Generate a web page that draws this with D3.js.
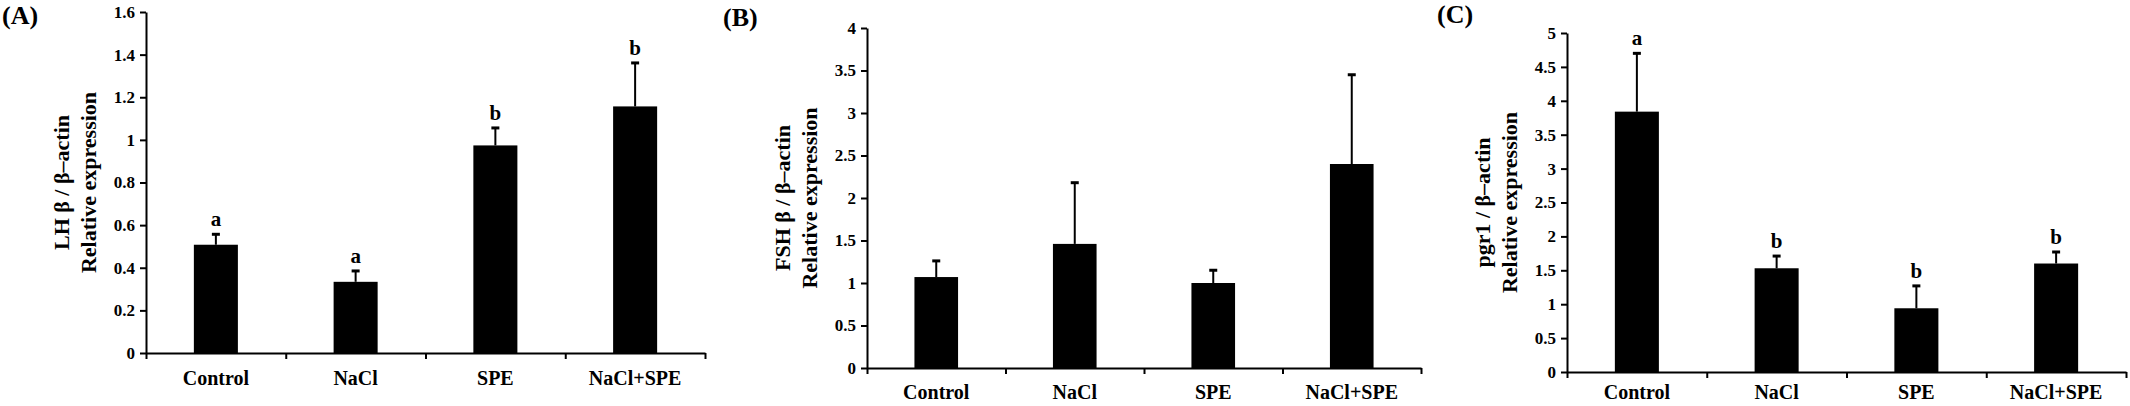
<!DOCTYPE html>
<html>
<head>
<meta charset="utf-8">
<script src="https://d3js.org/d3.v7.min.js"></script>
<style>
  body { margin: 0; padding: 0; background: #fff; }
  svg { display: block; }
  text { font-family: "Liberation Serif", "Times New Roman", serif; font-weight: bold; fill: #000; }
  .axis path, .axis line { stroke: #000; stroke-width: 2; }
  .axis text { font-size: 17px; }
</style>
</head>
<body>
<div id="chart"></div>
<script>
  // groups on the x axis (same for the three panels)
  var categories = ["Control", "NaCl", "SPE", "NaCl+SPE"];

  // (A) LH beta
  var lhMean = [0.508, 0.334, 0.974, 1.157];
  var lhErr = [0.049, 0.051, 0.082, 0.204];
  var lhLetters = ["a", "a", "b", "b"];
  var lhTicks = [0, 0.2, 0.4, 0.6, 0.8, 1, 1.2, 1.4, 1.6];

  // (B) FSH beta
  var fshMean = [1.07, 1.46, 1.0, 2.4];
  var fshErr = [0.19, 0.72, 0.15, 1.05];
  var fshLetters = ["", "", "", ""];
  var fshTicks = [0, 0.5, 1, 1.5, 2, 2.5, 3, 3.5, 4];

  // (C) pgr1
  var pgrMean = [3.84, 1.53, 0.94, 1.6];
  var pgrErr = [0.86, 0.18, 0.33, 0.17];
  var pgrLetters = ["a", "b", "b", "b"];
  var pgrTicks = [0, 0.5, 1, 1.5, 2, 2.5, 3, 3.5, 4, 4.5, 5];

  var W = 2130, H = 406;

  var panels = [
    {tag: "(A)", tagX: 2, tagY: 24, x0: 146, x1: 705, top: 12, bottom: 353,
     mean: lhMean, err: lhErr, letters: lhLetters, ticks: lhTicks,
     title: ["LH β / β–actin", "Relative expression"]},
    {tag: "(B)", tagX: 723, tagY: 26, x0: 867, x1: 1421, top: 28, bottom: 368,
     mean: fshMean, err: fshErr, letters: fshLetters, ticks: fshTicks,
     title: ["FSH β / β–actin", "Relative expression"]},
    {tag: "(C)", tagX: 1437, tagY: 23, x0: 1567, x1: 2126, top: 33, bottom: 372,
     mean: pgrMean, err: pgrErr, letters: pgrLetters, ticks: pgrTicks,
     title: ["pgr1 / β–actin", "Relative expression"]}
  ];

  var svg = d3.select("#chart").append("svg")
    .attr("width", W)
    .attr("height", H);

  svg.append("rect").attr("width", W).attr("height", H).attr("fill", "#fff");

  panels.forEach(function(p) {
    var y = d3.scaleLinear()
      .domain([0, d3.max(p.ticks)])
      .range([p.bottom, p.top]);

    var x = d3.scaleBand()
      .domain(categories)
      .range([p.x0, p.x1])
      .padding(0);

    var barW = x.bandwidth() * 0.315;

    var g = svg.append("g");

    // panel tag
    g.append("text")
      .attr("x", p.tagX)
      .attr("y", p.tagY)
      .style("font-size", "26px")
      .text(p.tag);

    // bars
    g.selectAll(".bar")
      .data(p.mean)
      .enter().append("rect")
      .attr("class", "bar")
      .attr("x", function(d, i) { return x(categories[i]) + (x.bandwidth() - barW) / 2; })
      .attr("y", function(d) { return y(d); })
      .attr("width", barW)
      .attr("height", function(d) { return y(0) - y(d); })
      .attr("fill", "#000");

    // upper error bars
    var cx = function(i) { return x(categories[i]) + x.bandwidth() / 2; };
    g.selectAll(".err")
      .data(p.mean)
      .enter().append("line")
      .attr("x1", function(d, i) { return cx(i); })
      .attr("x2", function(d, i) { return cx(i); })
      .attr("y1", function(d) { return y(d); })
      .attr("y2", function(d, i) { return y(d + p.err[i]); })
      .attr("stroke", "#000")
      .attr("stroke-width", 2);

    g.selectAll(".cap")
      .data(p.mean)
      .enter().append("line")
      .attr("x1", function(d, i) { return cx(i) - 4; })
      .attr("x2", function(d, i) { return cx(i) + 4; })
      .attr("y1", function(d, i) { return y(d + p.err[i]); })
      .attr("y2", function(d, i) { return y(d + p.err[i]); })
      .attr("stroke", "#000")
      .attr("stroke-width", 3);

    // significance letters
    g.selectAll(".letter")
      .data(p.letters)
      .enter().append("text")
      .attr("x", function(d, i) { return cx(i); })
      .attr("y", function(d, i) { return y(p.mean[i] + p.err[i]) - 8; })
      .attr("text-anchor", "middle")
      .style("font-size", "21px")
      .text(function(d) { return d; });

    // y axis
    g.append("g")
      .attr("class", "axis")
      .attr("transform", "translate(" + p.x0 + ",0)")
      .call(d3.axisLeft(y).tickValues(p.ticks).tickSize(6).tickSizeOuter(0).tickPadding(5).tickFormat(d3.format("")));

    // x axis: ticks sit between the groups
    var xb = d3.scaleLinear().domain([0, categories.length]).range([p.x0, p.x1]);
    g.append("g")
      .attr("class", "axis")
      .attr("transform", "translate(0," + p.bottom + ")")
      .call(d3.axisBottom(xb).tickValues(d3.range(categories.length + 1)).tickSize(6).tickSizeOuter(0).tickFormat(""));

    // category labels
    g.selectAll(".cat")
      .data(categories)
      .enter().append("text")
      .attr("x", function(d) { return x(d) + x.bandwidth() / 2; })
      .attr("y", Math.min(p.bottom + 32, H - 7))
      .attr("text-anchor", "middle")
      .style("font-size", "20px")
      .text(function(d) { return d; });

    // y title, two lines
    var midY = (p.top + p.bottom) / 2;
    p.title.forEach(function(t, k) {
      var tx = p.x0 - 77 + k * 27;
      g.append("text")
        .attr("transform", "translate(" + tx + "," + midY + ") rotate(-90)")
        .attr("text-anchor", "middle")
        .style("font-size", "22px")
        .text(t);
    });
  });
</script>
</body>
</html>
